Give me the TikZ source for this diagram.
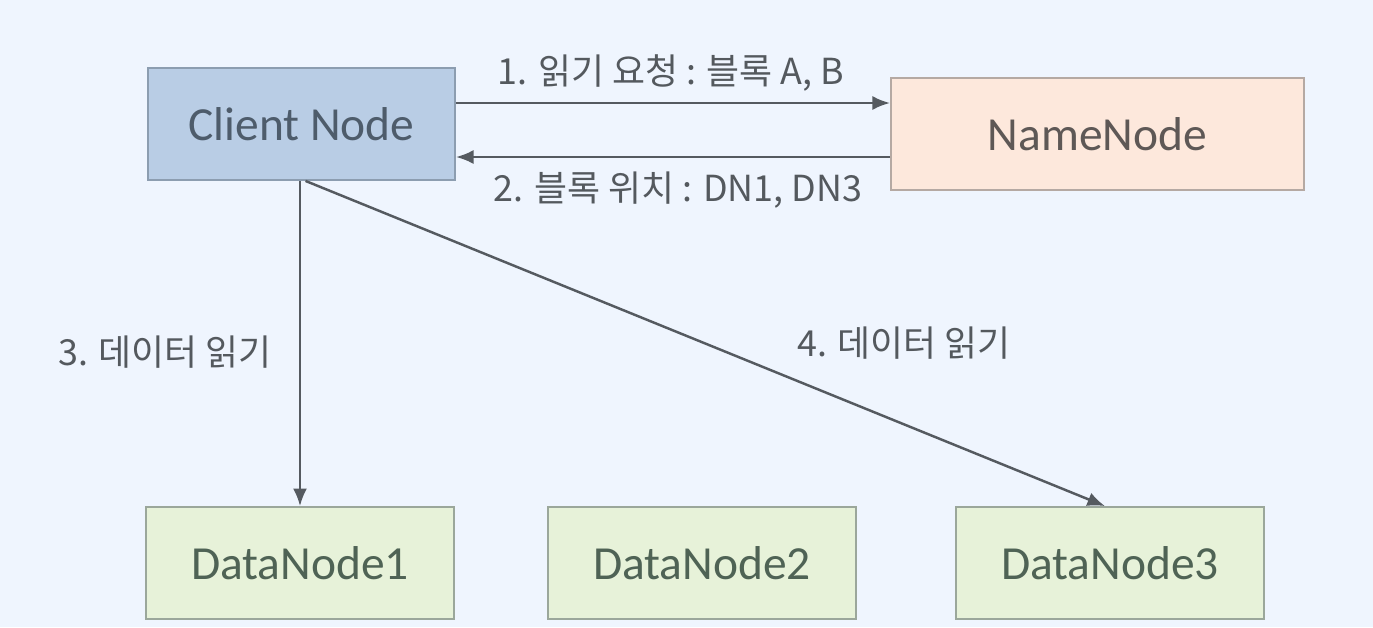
\documentclass[tikz,border=0pt]{standalone}
\usepackage{fontspec}
\setmainfont{Carlito}
\newfontfamily\kr{Noto Sans CJK KR}
\usetikzlibrary{arrows.meta}
\definecolor{bgc}{HTML}{EFF5FE}
\definecolor{clientfill}{HTML}{B9CDE5}
\definecolor{clientdraw}{HTML}{8C9DB0}
\definecolor{namefill}{HTML}{FDE8DC}
\definecolor{namedraw}{HTML}{B5A9A3}
\definecolor{datafill}{HTML}{E7F2D9}
\definecolor{datadraw}{HTML}{9BA79B}
\definecolor{arrowc}{HTML}{555A60}
\definecolor{textc}{HTML}{54595E}
\definecolor{clienttext}{HTML}{4E5C6B}
\definecolor{nametext}{HTML}{5E5856}
\definecolor{datatext}{HTML}{4F6355}
\begin{document}
\begin{tikzpicture}[x=0.01cm,y=-0.01cm,
  box/.style={draw, line width=0.5pt, minimum width=3.08cm, minimum height=1.12cm, inner sep=0pt, font=\fontsize{13.5}{16}\selectfont},
  conn/.style={draw=arrowc, line width=0.7pt, -{Latex[length=5pt,width=4pt]}},
  lbl/.style={font=\kr\fontsize{10.2}{12}\selectfont, text=textc, inner sep=0pt}]
\fill[bgc] (0,0) rectangle (1373,627);
\useasboundingbox (0,0) rectangle (1373,627);
\node[box, fill=clientfill, draw=clientdraw, minimum width=3.07cm, text=clienttext] (client) at (301.5,124) {Client Node};
\node[box, fill=namefill, draw=namedraw, minimum width=4.13cm, text=nametext] (name) at (1097.5,134) {NameNode};
\node[box, fill=datafill, draw=datadraw, text=datatext] (dn1) at (300,563) {DataNode1};
\node[box, fill=datafill, draw=datadraw, text=datatext] (dn2) at (702,563) {DataNode2};
\node[box, fill=datafill, draw=datadraw, text=datatext] (dn3) at (1110,563) {DataNode3};
\coordinate (c1) at (455,103);
\coordinate (n1) at (891,103);
\coordinate (n2) at (891,157);
\coordinate (c2) at (455,157);
\draw[conn] (client.east |- c1) -- (name.west |- n1);
\draw[conn] (name.west |- n2) -- (client.east |- c2);
\draw[conn] (client.south -| dn1.north) -- (dn1.north);
\draw[conn] ([xshift=0.04cm]client.south) -- ([xshift=-0.05cm]dn3.north);
\node[lbl] (l1) at (671,73) {1. 읽기 요청 : 블록 A, B};
\node[lbl] (l2) at (678,190) {2. 블록 위치 : DN1, DN3};
\node[lbl] (l3) at (165,352) {3. 데이터 읽기};
\node[lbl] (l4) at (904,343) {4. 데이터 읽기};
\end{tikzpicture}
\end{document}
